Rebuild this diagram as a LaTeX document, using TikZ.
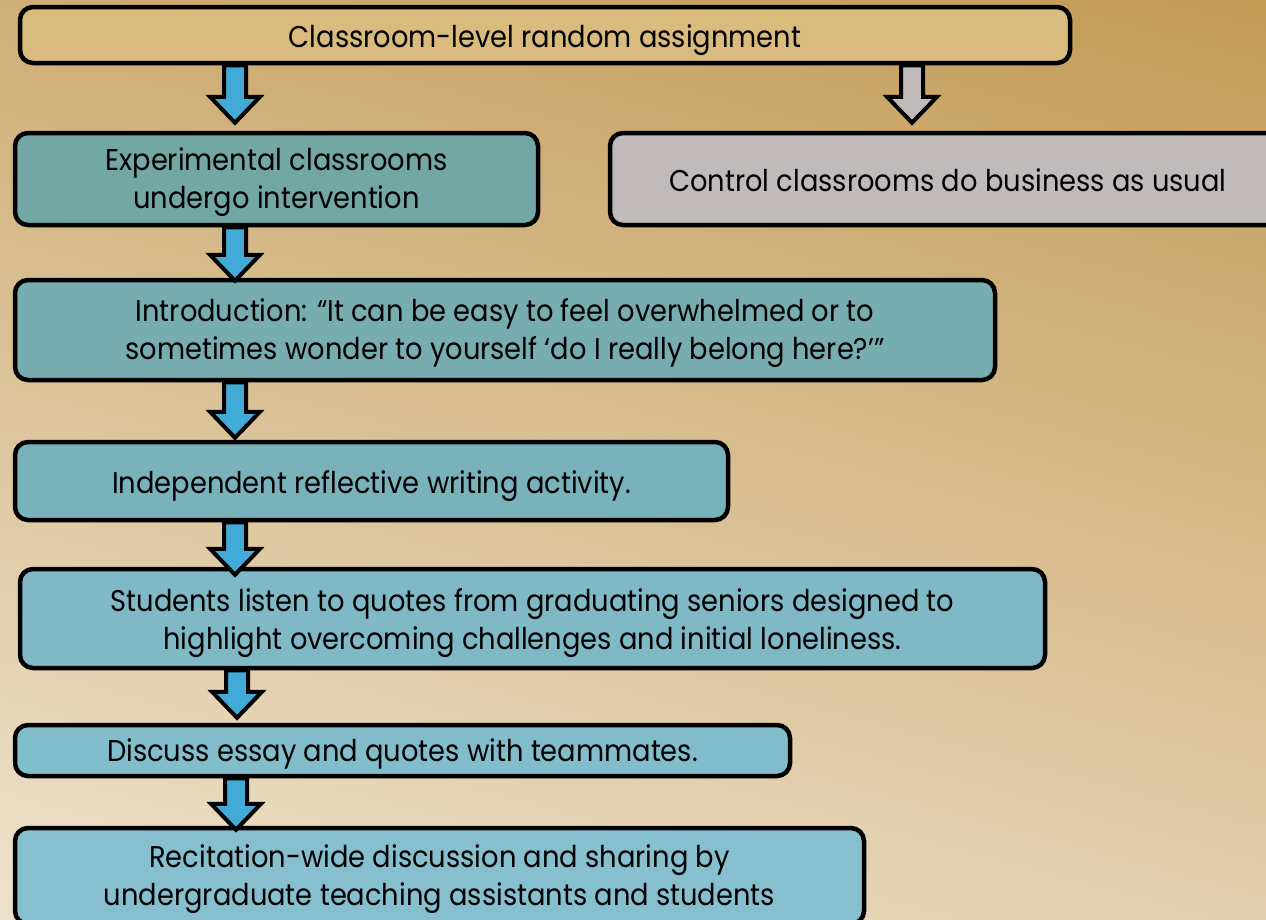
\documentclass[tikz,border=0pt]{standalone}
\usepackage{fontspec}
\setmainfont{Poppins}[FakeStretch=0.91]
\usetikzlibrary{calc}
\definecolor{bgtop}{RGB}{192,150,78}
\definecolor{bgmid}{RGB}{214,188,144}
\definecolor{bgbot}{RGB}{241,231,213}
\definecolor{cassign}{RGB}{216,187,125}
\definecolor{cexp}{RGB}{114,167,165}
\definecolor{cctrl}{RGB}{192,186,186}
\definecolor{cintro}{RGB}{119,172,177}
\definecolor{cindep}{RGB}{122,178,188}
\definecolor{cstud}{RGB}{128,185,198}
\definecolor{cdisc}{RGB}{130,189,203}
\definecolor{crecit}{RGB}{134,192,206}
\definecolor{ablue}{RGB}{66,170,214}
\tikzset{
  box/.style={draw=black, line width=4.5pt, rounded corners=13pt, inner sep=0pt},
  boxtext/.style={align=center, inner sep=0pt, text=black, yshift=-3.5pt,
    font=\fontsize{30}{38}\selectfont},
  barrow/.style={draw=black, line width=4pt, line join=miter}
}
\newcommand\blockarrow[5]{%
  \path (#1.south -| #3,0) coordinate (s) (#2.north -| #3,0) coordinate (t);
  \draw[barrow, fill=#5] ($(s)+(-11,0)$) -- ($(t)+(-11,#4-26)$) -- ($(t)+(-25,#4-26)$)
    -- ($(t)+(0,#4)$) -- ($(t)+(25,#4-26)$) -- ($(t)+(11,#4-26)$) -- ($(s)+(11,0)$) -- cycle;
}
\begin{document}
\begin{tikzpicture}[x=1pt,y=-1pt]
\useasboundingbox (0,0) rectangle (1266,919);
\shade[top color=bgtop, middle color=bgmid, bottom color=bgbot, shading angle=-15] (-200,-200) rectangle (1466,1119);
\node[box, fill=cassign, minimum width=1050pt, minimum height=56pt,
  label={[boxtext, yshift=-1.5pt]center:Classroom-level random assignment}] (assign) at (545,35) {};
\node[box, fill=cexp, minimum width=523pt, minimum height=92pt,
  label={[boxtext]center:{Experimental classrooms\\undergo intervention}}] (exp) at (276.5,179) {};
\node[box, fill=cctrl, minimum width=676pt, minimum height=92pt,
  label={[boxtext, yshift=2.5pt]center:Control classrooms do business as usual}] (ctrl) at (948,179) {};
\node[box, fill=cintro, minimum width=980pt, minimum height=100pt,
  label={[boxtext]center:{Introduction: “It can be easy to feel overwhelmed or to\\sometimes wonder to yourself ‘do I really belong here?’”}}] (intro) at (505,330) {};
\node[box, fill=cindep, minimum width=713pt, minimum height=78pt,
  label={[boxtext, yshift=-1.5pt]center:Independent reflective writing activity.}] (indep) at (371.5,481) {};
\node[box, fill=cstud, minimum width=1025pt, minimum height=99pt,
  label={[boxtext, yshift=-1pt]center:{Students listen to quotes from graduating seniors designed to\\highlight overcoming challenges and initial loneliness.}}] (stud) at (532.5,618.5) {};
\node[box, fill=cdisc, minimum width=775pt, minimum height=51pt,
  label={[boxtext]center:Discuss essay and quotes with teammates.}] (disc) at (402.5,750.5) {};
\node[box, fill=crecit, minimum width=849pt, minimum height=96pt,
  label={[boxtext]center:{Recitation-wide discussion and sharing by\\undergraduate teaching assistants and students}}] (recit) at (439.5,876) {};
\blockarrow{assign}{exp}{235}{-8}{ablue}
\blockarrow{assign}{ctrl}{912}{-8}{cctrl}
\blockarrow{exp}{intro}{235}{3}{ablue}
\blockarrow{intro}{indep}{235}{-2}{ablue}
\blockarrow{indep}{stud}{235}{8}{ablue}
\blockarrow{stud}{disc}{237}{-5}{ablue}
\blockarrow{disc}{recit}{236}{4}{ablue}
\end{tikzpicture}
\end{document}
